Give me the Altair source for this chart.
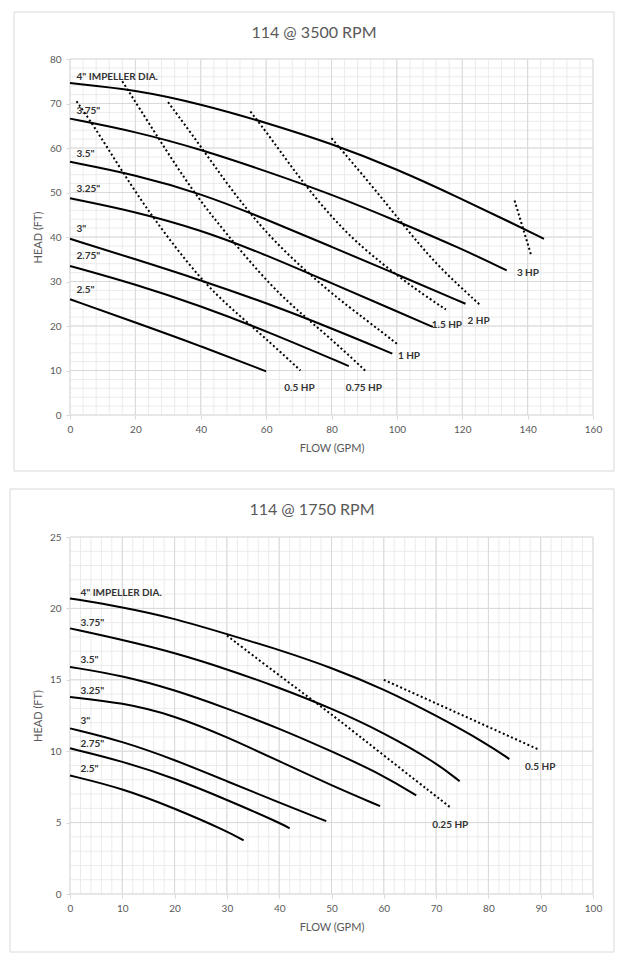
import altair as alt
import pandas as pd

FONT = "Lato"
GRID_MAJOR = "#d9d9d9"
GRID_MINOR = "#ebebeb"
TXT = "#595959"
LAB = "#333333"

# ---------------- 114 @ 3500 RPM ----------------
t_title = "114 @ 3500 RPM"
t_x_ticks = [0, 20, 40, 60, 80, 100, 120, 140, 160]
t_y_ticks = [0, 10, 20, 30, 40, 50, 60, 70, 80]
t_x_minor = list(range(0, 161, 4))
t_y_minor = list(range(0, 81, 2))

t_dia_names = ['4" IMPELLER DIA.', '3.75"', '3.5"', '3.25"', '3"', '2.75"', '2.5"']
t_dia_flow = [
    [0, 20, 40, 60, 80, 100, 120, 135, 145],
    [0, 20, 40, 60, 80, 100, 120, 133.6],
    [0, 20, 40, 60, 80, 100, 121],
    [0, 20, 40, 60, 80, 100, 111],
    [0, 20, 40, 60, 80, 98.6],
    [0, 20, 40, 60, 85.3],
    [0, 20, 40, 60],
]
t_dia_head = [
    [74.6, 73.1, 69.9, 65.7, 61.0, 55.3, 48.5, 43.2, 39.6],
    [66.6, 63.7, 59.7, 54.8, 49.6, 43.6, 37.3, 32.5],
    [56.9, 54.0, 49.8, 44.0, 37.8, 31.6, 25.0],
    [48.7, 45.7, 41.6, 36.0, 29.6, 23.3, 19.8],
    [39.6, 35.0, 30.3, 25.2, 19.5, 13.8],
    [33.5, 29.4, 24.5, 18.9, 11.0],
    [26.0, 20.8, 15.5, 9.8],
]
t_dia_label_x = [2, 2, 2, 2, 2, 2, 2]
t_dia_label_y = [76.0, 68.3, 58.6, 50.7, 41.7, 35.7, 28.0]

t_hp_names = ["0.5 HP", "0.75 HP", "1 HP", "1.5 HP", "2 HP", "3 HP"]
t_hp_flow = [
    [2, 7, 16, 25, 40, 50, 62, 70.5],
    [16, 26.5, 37.7, 47.5, 61.8, 72, 82.3, 90.4],
    [30, 39.8, 49, 61.8, 80.2, 90.4, 100.2],
    [55.2, 61.6, 71.8, 84.1, 95.6, 105.8, 115],
    [80, 92.3, 104.6, 113, 125.2],
    [136, 141],
]
t_hp_head = [
    [70.5, 65.3, 54.7, 44.6, 30.3, 23.5, 15.8, 10.0],
    [75.0, 62.8, 50.1, 41.0, 28.6, 22.0, 15.5, 9.9],
    [70.3, 60.6, 50.9, 39.1, 27.1, 21.5, 15.9],
    [68.2, 62.1, 51.6, 41.0, 33.9, 28.2, 23.7],
    [62.2, 51.6, 40.3, 33.1, 24.9],
    [48.2, 36.1],
]
t_hp_label_x = [70.2, 89.9, 103.7, 115.3, 125.0, 140.1]
t_hp_label_y = [6.1, 6.1, 13.3, 20.2, 21.1, 32.0]

# ---------------- 114 @ 1750 RPM ----------------
b_title = "114 @ 1750 RPM"
b_x_ticks = [0, 10, 20, 30, 40, 50, 60, 70, 80, 90, 100]
b_y_ticks = [0, 5, 10, 15, 20, 25]
b_x_minor = list(range(0, 101, 2))
b_y_minor = list(range(0, 26, 1))

b_dia_names = ['4" IMPELLER DIA.', '3.75"', '3.5"', '3.25"', '3"', '2.75"', '2.5"']
b_dia_flow = [
    [0, 10, 20, 30, 40, 50, 60, 70, 79.6, 84],
    [0, 10, 20, 30, 40, 50, 60, 70, 74.5],
    [0, 10, 20, 30, 40, 50, 60, 66.2],
    [0, 10, 20, 30, 40, 50, 59.3],
    [0, 10, 20, 30, 40, 49],
    [0, 10, 20, 30, 40, 42],
    [0, 10, 20, 30, 33.2],
]
b_dia_head = [
    [20.7, 20.1, 19.3, 18.2, 17.1, 15.85, 14.35, 12.5, 10.55, 9.45],
    [18.6, 17.8, 16.9, 15.75, 14.45, 13.0, 11.3, 9.2, 7.9],
    [15.9, 15.3, 14.3, 13.0, 11.6, 10.0, 8.3, 6.9],
    [13.8, 13.4, 12.5, 11.0, 9.3, 7.6, 6.15],
    [11.6, 10.7, 9.4, 7.9, 6.4, 5.1],
    [10.2, 9.3, 8.1, 6.6, 5.0, 4.6],
    [8.3, 7.4, 6.0, 4.4, 3.75],
]
b_dia_label_x = [2, 2, 2, 2, 2, 2, 2]
b_dia_label_y = [21.1, 19.0, 16.4, 14.2, 12.1, 10.5, 8.75]

b_hp_names = ["0.25 HP", "0.5 HP"]
b_hp_flow = [
    [30, 40, 50, 60, 72.6],
    [60, 89.7],
]
b_hp_head = [
    [18.1, 15.3, 12.6, 9.7, 6.1],
    [15.0, 10.1],
]
b_hp_label_x = [72.7, 89.9]
b_hp_label_y = [4.8, 8.86]


def curves_df(names, flows, heads):
    rows = []
    for n, fs, hs in zip(names, flows, heads):
        for i, (f, h) in enumerate(zip(fs, hs)):
            rows.append({"curve": n, "i": i, "q": f, "h": h})
    return pd.DataFrame(rows)


def labels_df(names, xs, ys):
    return pd.DataFrame({"t": names, "q": xs, "h": ys})


def panel(title, xdom, ydom, xt, yt, xm, ym, dia, hp, dlab, hlab, frame, w, h):
    xs = alt.Scale(domain=xdom, nice=False, zero=False)
    ys = alt.Scale(domain=ydom, nice=False, zero=False)
    common = dict(grid=False, domain=False, ticks=True, tickColor=GRID_MAJOR,
                  tickSize=4, labelColor=TXT, labelFont=FONT, labelFontSize=10,
                  labelFlush=False, titleColor=TXT, titleFont=FONT, titleFontSize=11,
                  titleFontWeight="normal")
    xax = alt.Axis(values=xt, labelPadding=5, title="FLOW (GPM)", titlePadding=8, **common)
    yax = alt.Axis(values=yt, labelPadding=5, title="HEAD (FT)", titlePadding=6, **common)

    def X(f):
        return alt.X(f, type="quantitative", scale=xs, axis=xax)

    def Y(f):
        return alt.Y(f, type="quantitative", scale=ys, axis=yax)

    fx1, fx2, fy1, fy2 = frame
    frame_layer = alt.Chart(pd.DataFrame({"a": [0]})).mark_rect(
        filled=False, stroke=GRID_MAJOR, strokeWidth=1
    ).encode(x=alt.value(fx1), x2=alt.value(fx2), y=alt.value(fy1), y2=alt.value(fy2))

    minor_x = alt.Chart(pd.DataFrame({"q": xm})).mark_rule(color=GRID_MINOR, strokeWidth=1).encode(x=X("q"))
    minor_y = alt.Chart(pd.DataFrame({"h": ym})).mark_rule(color=GRID_MINOR, strokeWidth=1).encode(y=Y("h"))
    major_x = alt.Chart(pd.DataFrame({"q": xt})).mark_rule(color=GRID_MAJOR, strokeWidth=1).encode(x=X("q"))
    major_y = alt.Chart(pd.DataFrame({"h": yt})).mark_rule(color=GRID_MAJOR, strokeWidth=1).encode(y=Y("h"))

    dotted = alt.Chart(hp).mark_line(
        color="black", strokeWidth=2, strokeDash=[2, 2.5], interpolate="basis"
    ).encode(x=X("q"), y=Y("h"), detail="curve:N", order="i:Q")
    solid = alt.Chart(dia).mark_line(
        color="black", strokeWidth=2, interpolate="basis"
    ).encode(x=X("q"), y=Y("h"), detail="curve:N", order="i:Q")

    dl = alt.Chart(dlab).mark_text(
        align="left", baseline="middle", font=FONT, fontWeight="bold", fontSize=10, color=LAB
    ).encode(x=X("q"), y=Y("h"), text="t:N")
    hl = alt.Chart(hlab).mark_text(
        align="center", baseline="middle", font=FONT, fontWeight="bold", fontSize=10, color=LAB
    ).encode(x=X("q"), y=Y("h"), text="t:N")

    return alt.layer(
        frame_layer, minor_x, minor_y, major_x, major_y, dotted, solid, dl, hl
    ).properties(
        width=w, height=h,
        title=alt.TitleParams(title, font=FONT, fontSize=16, fontWeight="normal",
                              color=TXT, anchor="middle", frame="bounds",
                              baseline="middle", offset=-37),
    )


top = panel(
    t_title, [0, 160], [0, 80], t_x_ticks, t_y_ticks, t_x_minor, t_y_minor,
    curves_df(t_dia_names, t_dia_flow, t_dia_head),
    curves_df(t_hp_names, t_hp_flow, t_hp_head),
    labels_df(t_dia_names, t_dia_label_x, t_dia_label_y),
    labels_df(t_hp_names, t_hp_label_x, t_hp_label_y),
    (-56, 544, -47, 412), 523, 356,
)
bottom = panel(
    b_title, [0, 100], [0, 25], b_x_ticks, b_y_ticks, b_x_minor, b_y_minor,
    curves_df(b_dia_names, b_dia_flow, b_dia_head),
    curves_df(b_hp_names, b_hp_flow, b_hp_head),
    labels_df(b_dia_names, b_dia_label_x, b_dia_label_y),
    labels_df(b_hp_names, b_hp_label_x, b_hp_label_y),
    (-60, 544, -48, 415), 523, 357,
)

chart = alt.vconcat(top, bottom, spacing=16).properties(
    padding={"left": 1, "top": 3, "right": 0, "bottom": 0}
).configure_view(stroke=None)

chart.save("out.html", embed_options={"renderer": "svg", "actions": False})
